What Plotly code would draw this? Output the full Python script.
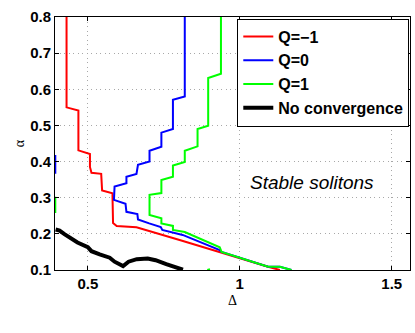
import plotly.graph_objects as go

# Q = -1 boundary (red)
red_x = [0.430, 0.430, 0.469, 0.469, 0.507, 0.507, 0.512, 0.544, 0.547, 0.581, 0.583, 0.595, 0.660, 0.802, 1.093, 1.132]
red_y = [0.800, 0.550, 0.541, 0.431, 0.421, 0.385, 0.369, 0.366, 0.320, 0.312, 0.230, 0.222, 0.218, 0.183, 0.109, 0.100]

# Q = 0 boundary (blue); left-edge piece separated by None
blue_x = [0.819, 0.819, 0.780, 0.780, 0.742, 0.742, 0.703, 0.703, 0.665, 0.660, 0.627, 0.627, 0.588, 0.586,
          0.624, 0.627, 0.663, 0.665, 0.702, 0.740, 0.745, 0.812, 0.934, 0.940, 1.093, 1.132, 1.170,
          None, 0.393, 0.393]
blue_y = [0.800, 0.580, 0.571, 0.490, 0.480, 0.441, 0.430, 0.400, 0.391, 0.366, 0.358, 0.340, 0.331, 0.294,
          0.283, 0.261, 0.255, 0.240, 0.229, 0.219, 0.211, 0.197, 0.155, 0.150, 0.109, 0.109, 0.100,
          None, 0.418, 0.366]

# Q = 1 boundary (green); left-edge piece and small bottom piece separated by None
green_x = [0.938, 0.938, 0.896, 0.896, 0.861, 0.861, 0.819, 0.819, 0.780, 0.780, 0.742, 0.742, 0.703, 0.703,
           0.742, 0.742, 0.780, 0.780, 0.819, 0.868, 0.934, 0.940, 1.093, 1.132, 1.170,
           None, 0.393, 0.393, None, 0.893, 0.902]
green_y = [0.800, 0.643, 0.631, 0.499, 0.490, 0.442, 0.430, 0.399, 0.389, 0.358, 0.349, 0.313, 0.308, 0.252,
           0.243, 0.229, 0.222, 0.211, 0.205, 0.188, 0.163, 0.150, 0.109, 0.109, 0.100,
           None, 0.303, 0.258, None, 0.100, 0.102]

# No convergence boundary (black)
black_x = [0.394, 0.407, 0.423, 0.440, 0.466, 0.500, 0.512, 0.539, 0.572, 0.588, 0.616, 0.634, 0.661, 0.697, 0.723, 0.758, 0.791, 0.813]
black_y = [0.212, 0.209, 0.199, 0.190, 0.176, 0.163, 0.152, 0.143, 0.134, 0.123, 0.111, 0.123, 0.130, 0.132, 0.127, 0.116, 0.107, 0.101]

x_ticks = [0.5, 1, 1.5]
x_labels = ["0.5", "1", "1.5"]
y_ticks = [0.1, 0.2, 0.3, 0.4, 0.5, 0.6, 0.7, 0.8]
y_labels = ["0.1", "0.2", "0.3", "0.4", "0.5", "0.6", "0.7", "0.8"]

fig = go.Figure()
fig.add_trace(go.Scatter(x=red_x, y=red_y, mode="lines", name="<b>Q=\u22121</b>",
                         line=dict(color="#ff0000", width=2)))
fig.add_trace(go.Scatter(x=blue_x, y=blue_y, mode="lines", name="<b>Q=0</b>",
                         line=dict(color="#0000ff", width=2)))
fig.add_trace(go.Scatter(x=green_x, y=green_y, mode="lines", name="<b>Q=1</b>",
                         line=dict(color="#00ff00", width=2)))
fig.add_trace(go.Scatter(x=black_x, y=black_y, mode="lines", name="<b>No convergence</b>",
                         line=dict(color="#000000", width=4)))

fig.add_annotation(x=1.236, y=0.342, xref="x", yref="y", text="<i>Stable solitons</i>",
                   showarrow=False, font=dict(family="Liberation Sans, Arial", size=19, color="black"))

axis_common = dict(showline=True, linecolor="black", linewidth=1, mirror="ticks",
                   ticks="inside", ticklen=4, tickcolor="black",
                   showgrid=True, gridcolor="#a8a8a8", griddash="1px,3.5px", gridwidth=1,
                   zeroline=False, automargin=False,
                   tickfont=dict(family="Liberation Sans, Arial", size=15, color="black", weight="bold"))

fig.update_xaxes(range=[0.392, 1.56], tickvals=x_ticks, ticktext=x_labels,
                 title=dict(text="\u0394", font=dict(family="Liberation Serif, Times New Roman", size=14, color="black"),
                            standoff=4),
                 **axis_common)
fig.update_yaxes(range=[0.1, 0.8], tickvals=y_ticks, ticktext=y_labels,
                 title=dict(text="\u03b1", font=dict(family="Liberation Serif, Times New Roman", size=14, color="black"),
                            standoff=2),
                 **axis_common)

fig.update_layout(
    width=415, height=333,
    margin=dict(l=55, r=5, t=17, b=63, autoexpand=False),
    plot_bgcolor="white", paper_bgcolor="white",
    legend=dict(x=0.998, y=0.994, xanchor="right", yanchor="top",
                bgcolor="white", bordercolor="black", borderwidth=1,
                font=dict(family="Liberation Sans, Arial", size=16, color="black"),
                tracegroupgap=0),
)

fig.write_html("out.html",
               config={"displayModeBar": False},
               post_script="document.body.style.margin='0';document.body.style.padding='0';"
                           "document.body.style.overflow='hidden';")
